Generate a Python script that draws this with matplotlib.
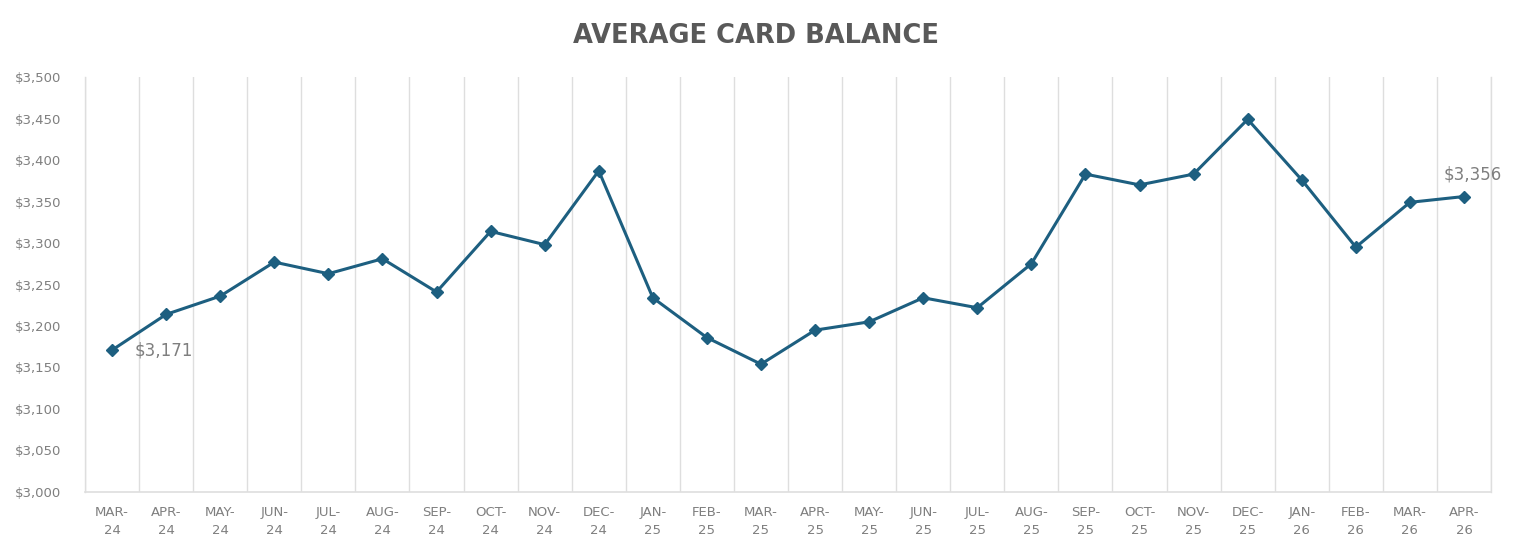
import matplotlib.pyplot as plt
from matplotlib.ticker import FuncFormatter, MultipleLocator, FixedLocator

# ----- data -------------------------------------------------------------------
months = ["MAR-\n24", "APR-\n24", "MAY-\n24", "JUN-\n24", "JUL-\n24", "AUG-\n24",
          "SEP-\n24", "OCT-\n24", "NOV-\n24", "DEC-\n24", "JAN-\n25", "FEB-\n25",
          "MAR-\n25", "APR-\n25", "MAY-\n25", "JUN-\n25", "JUL-\n25", "AUG-\n25",
          "SEP-\n25", "OCT-\n25", "NOV-\n25", "DEC-\n25", "JAN-\n26", "FEB-\n26",
          "MAR-\n26", "APR-\n26"]
balance = [3171, 3214, 3236, 3277, 3263, 3281, 3241, 3314, 3298, 3387,
           3234, 3186, 3154, 3195, 3205, 3234, 3222, 3275, 3383, 3370,
           3383, 3449, 3376, 3295, 3349, 3356]
# ------------------------------------------------------------------------------

LINE = "#1d5f80"
GREY = "#7f7f7f"
GRID = "#dedede"

fig = plt.figure(figsize=(15.21, 5.52), dpi=100)
ax = fig.add_axes([0.0559, 0.1087, 0.9244, 0.7518])

x = list(range(len(months)))
ax.plot(x, balance, color=LINE, lw=2.2, marker="D", ms=6, zorder=3)

ax.set_xlim(-0.5, len(months) - 0.5)
ax.set_ylim(3000, 3500)
ax.yaxis.set_major_locator(MultipleLocator(50))
ax.yaxis.set_major_formatter(FuncFormatter(lambda v, _: f"${v:,.0f}"))

ax.set_xticks(x)
ax.set_xticklabels(months, fontsize=9.5, color=GREY, linespacing=1.55)
ax.xaxis.set_minor_locator(FixedLocator([i - 0.5 for i in range(len(months) + 1)]))
ax.grid(which="minor", axis="x", color=GRID, lw=1.0)
# make sure the outer boundary lines are fully visible
ax.axvline(-0.5, color=GRID, lw=1.0, clip_on=False)
ax.axvline(len(months) - 0.5, color=GRID, lw=1.0, clip_on=False)
ax.tick_params(which="both", length=0)
ax.tick_params(axis="x", pad=10)
ax.tick_params(axis="y", labelsize=9.5, labelcolor=GREY, pad=17)

for side in ["top", "right", "left"]:
    ax.spines[side].set_visible(False)
ax.spines["bottom"].set_color(GRID)
ax.spines["bottom"].set_linewidth(1.2)

# end-point labels
ax.annotate(f"${balance[0]:,}", (x[0], balance[0]), xytext=(16, 0),
            textcoords="offset points", ha="left", va="center",
            fontsize=12, color=GREY)
ax.annotate(f"${balance[-1]:,}", (x[-1], balance[-1]), xytext=(6, 16),
            textcoords="offset points", ha="center", va="center",
            fontsize=12, color=GREY)

fig.text(0.497, 0.935, "AVERAGE CARD BALANCE", ha="center", va="center",
         fontsize=18.5, fontweight="bold", color="#595959")

plt.savefig("out.png", dpi=100)
